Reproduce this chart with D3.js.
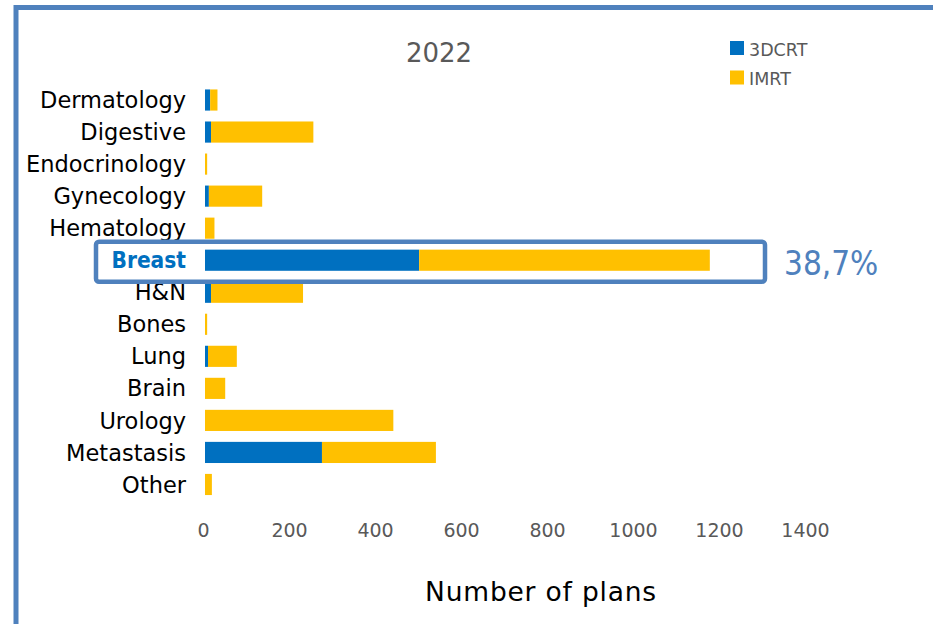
<!DOCTYPE html>
<html>
<head>
<meta charset="utf-8">
<script src="https://cdn.jsdelivr.net/npm/d3@7"></script>
<style>
  html, body { margin: 0; padding: 0; background: #ffffff; }
  svg { display: block; }
  text { font-family: "DejaVu Sans", sans-serif; }
  .cond { font-family: "DejaVu Sans Condensed", "DejaVu Sans", sans-serif; font-stretch: condensed; }
</style>
</head>
<body>
<svg id="chart" width="933" height="624"></svg>
<script>
const categories = ["Dermatology", "Digestive", "Endocrinology", "Gynecology", "Hematology", "Breast", "H&N", "Bones", "Lung", "Brain", "Urology", "Metastasis", "Other"];
const seriesNames = ["3DCRT", "IMRT"];
const values3DCRT = [12, 14, 0, 9, 0, 498, 14, 0, 7, 0, 0, 272, 0];
const valuesIMRT  = [17, 238, 5, 124, 22, 676, 214, 5, 67, 47, 438, 265, 16];
const xTicks = [0, 200, 400, 600, 800, 1000, 1200, 1400];
const chartTitle = "2022";
const axisTitle = "Number of plans";
const highlightCategory = "Breast";
const highlightLabel = "38,7%";

const colors = { "3DCRT": "#0070C0", "IMRT": "#FFC000" };

const svg = d3.select("#chart");

// outer frame
svg.append("rect")
  .attr("x", 16).attr("y", 7.5)
  .attr("width", 1000).attr("height", 700)
  .attr("fill", "none").attr("stroke", "#4F81BD").attr("stroke-width", 5);

const x = d3.scaleLinear().domain([0, 1400]).range([205, 807]);
const y = d3.scaleBand().domain(categories).range([84, 500.5])
  .paddingInner(0.34).paddingOuter(0.17);

const rows = categories.map((c, i) => ({ cat: c, a: values3DCRT[i], b: valuesIMRT[i] }));
const stack = d3.stack().keys(["a", "b"])(rows);
const keyName = { a: "3DCRT", b: "IMRT" };

svg.append("g").selectAll("g").data(stack).join("g")
  .attr("fill", d => colors[keyName[d.key]])
  .selectAll("rect").data(d => d).join("rect")
  .attr("x", d => x(d[0]))
  .attr("y", d => y(d.data.cat))
  .attr("width", d => Math.max(0, x(d[1]) - x(d[0])))
  .attr("height", y.bandwidth());

// y axis labels
const yAxis = d3.axisLeft(y).tickSize(0).tickPadding(0);
const gy = svg.append("g").attr("transform", "translate(186,0)").call(yAxis);
gy.select(".domain").remove();
gy.selectAll("text")
  .attr("font-size", 22.5)
  .attr("font-family", null)
  .attr("class", d => d === highlightCategory ? "cond" : null)
  .attr("fill", d => d === highlightCategory ? "#0070C0" : "#000000")
  .attr("font-weight", d => d === highlightCategory ? "bold" : "normal")
  .attr("dy", "0.36em");

// x axis
const xAxis = d3.axisBottom(x).tickValues(xTicks).tickSize(0).tickPadding(0).tickFormat(d3.format("d"));
const gx = svg.append("g").attr("transform", "translate(-2,522)").call(xAxis);
gx.select(".domain").remove();
gx.selectAll("text").attr("font-size", 19).attr("font-family", null).attr("fill", "#595959").attr("dy", "0.8em");

// title
svg.append("text").attr("x", 439).attr("y", 62).attr("text-anchor", "middle")
  .attr("font-size", 26).attr("fill", "#595959").text(chartTitle);

// legend
const legend = svg.append("g");
seriesNames.forEach((s, i) => {
  legend.append("rect").attr("x", 730).attr("y", 41 + i * 29.5).attr("width", 14).attr("height", 14).attr("fill", colors[s]);
  legend.append("text").attr("x", 749).attr("y", 55.5 + i * 29.5).attr("font-size", 17.5).attr("fill", "#595959").text(s);
});

// axis title
svg.append("text").attr("x", 541).attr("y", 601).attr("text-anchor", "middle")
  .attr("font-size", 26.5).attr("letter-spacing", 0.8).attr("fill", "#000000").text(axisTitle);

// highlight box
const hy = y(highlightCategory) + y.bandwidth() / 2;
svg.append("rect")
  .attr("x", 96).attr("y", hy - 18.5)
  .attr("width", 669).attr("height", 40).attr("rx", 3)
  .attr("fill", "none").attr("stroke", "#4F81BD").attr("stroke-width", 4.5);
svg.append("text").attr("class", "cond").attr("x", 784).attr("y", hy + 15)
  .attr("font-size", 33).attr("fill", "#4F81BD").text(highlightLabel);
</script>
</body>
</html>
